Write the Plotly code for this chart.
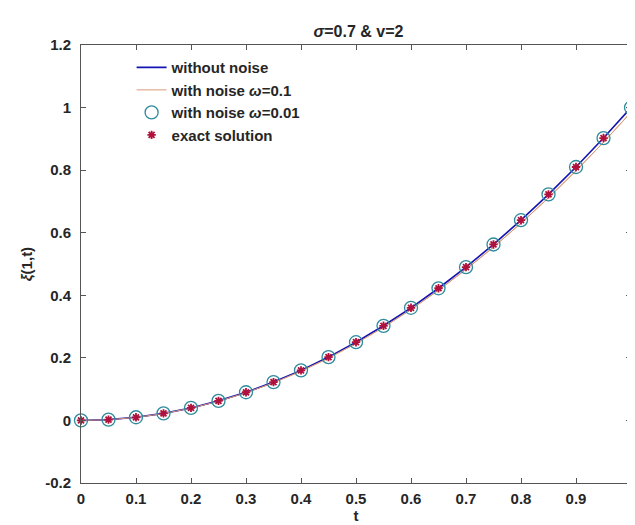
import plotly.graph_objects as go

t = [0, 0.05, 0.1, 0.15, 0.2, 0.25, 0.3, 0.35, 0.4, 0.45, 0.5,
     0.55, 0.6, 0.65, 0.7, 0.75, 0.8, 0.85, 0.9, 0.95, 1.0]
without_noise = [0, 0.0025, 0.01, 0.0225, 0.04, 0.0625, 0.09, 0.1225, 0.16, 0.2025, 0.25,
                 0.3025, 0.36, 0.4225, 0.49, 0.5625, 0.64, 0.7225, 0.81, 0.9025, 1.0]
noise_01 = [0, 0.0023, 0.0097, 0.0220, 0.0392, 0.0614, 0.0885, 0.1205, 0.1575, 0.1993, 0.2462,
            0.2980, 0.3547, 0.4163, 0.4828, 0.5541, 0.6305, 0.7118, 0.7980, 0.8891, 0.985]
noise_001 = [0.0001, 0.0026, 0.0101, 0.0224, 0.0401, 0.0624, 0.0901, 0.1224, 0.1600, 0.2024, 0.2500,
             0.3024, 0.3600, 0.4224, 0.4900, 0.5624, 0.6400, 0.7224, 0.8100, 0.9024, 0.9999]
exact = [0, 0.0025, 0.01, 0.0225, 0.04, 0.0625, 0.09, 0.1225, 0.16, 0.2025, 0.25,
         0.3025, 0.36, 0.4225, 0.49, 0.5625, 0.64, 0.7225, 0.81, 0.9025, 1.0]

xticks = [0, 0.1, 0.2, 0.3, 0.4, 0.5, 0.6, 0.7, 0.8, 0.9, 1]
xticklabels = ["0", "0.1", "0.2", "0.3", "0.4", "0.5", "0.6", "0.7", "0.8", "0.9", "1"]
yticks = [-0.2, 0, 0.2, 0.4, 0.6, 0.8, 1, 1.2]
yticklabels = ["-0.2", "0", "0.2", "0.4", "0.6", "0.8", "1", "1.2"]

FONT = "Liberation Sans, Arial, sans-serif"
TXT = "#262626"

fig = go.Figure()
fig.add_trace(go.Scatter(x=t, y=noise_01, mode="lines", name="with noise <i>ω</i>=0.1",
                         line=dict(color="#d99a78", width=1), showlegend=False, hoverinfo="skip"))
fig.add_trace(go.Scatter(x=t, y=without_noise, mode="lines", name="without noise",
                         line=dict(color="#1414b4", width=1.6), legendrank=1))
fig.add_trace(go.Scatter(x=t, y=noise_01, mode="lines", name="with noise <i>ω</i>=0.1",
                         line=dict(color="#d99a78", width=1), legendrank=2))
fig.add_trace(go.Scatter(x=t, y=noise_001, mode="markers", name="with noise <i>ω</i>=0.01",
                         cliponaxis=False, legendrank=3,
                         marker=dict(symbol="circle-open", size=13,
                                     line=dict(color="#2f8a9c", width=1.3), color="#2f8a9c")))
fig.add_trace(go.Scatter(x=t, y=exact, mode="markers", name="exact solution",
                         cliponaxis=False, legendrank=4,
                         marker=dict(symbol="asterisk-open", size=7,
                                     line=dict(color="#b0103c", width=1.8), color="#b0103c")))

axis_common = dict(showgrid=False, zeroline=False, showline=True, linecolor="#555555",
                   linewidth=1, mirror="ticks", ticks="inside", ticklen=5,
                   tickcolor="#555555",
                   tickfont=dict(family=FONT, size=15, color=TXT, weight="bold"))

fig.update_xaxes(range=[0, 1], tickvals=xticks, ticktext=xticklabels,
                 ticklabelstandoff=2,
                 title=dict(text="t", font=dict(family=FONT, size=15, color=TXT, weight="bold"),
                            standoff=2),
                 **axis_common)
fig.update_yaxes(range=[-0.2, 1.2], tickvals=yticks, ticktext=yticklabels,
                 ticklabelstandoff=6,
                 title=dict(text="<i>ξ</i>(1,t)", font=dict(family=FONT, size=15, color=TXT, weight="bold"),
                            standoff=8),
                 **axis_common)

fig.update_layout(
    width=635, height=525,
    margin=dict(l=73, r=8, t=37, b=50),
    paper_bgcolor="white", plot_bgcolor="white",
    font=dict(family=FONT, color=TXT),
    title=dict(text="<i>σ</i>=0.7 & v=2", x=0.552, xanchor="center", y=0.956, yanchor="middle",
               font=dict(family=FONT, size=16, color=TXT, weight="bold")),
    legend=dict(x=0.092, y=0.986, xanchor="left", yanchor="top",
                bgcolor="rgba(0,0,0,0)", borderwidth=0,
                font=dict(family=FONT, size=15, color=TXT, weight="bold"),
                tracegroupgap=0, itemwidth=30),
    showlegend=True,
)

fig.write_html("out.html")
